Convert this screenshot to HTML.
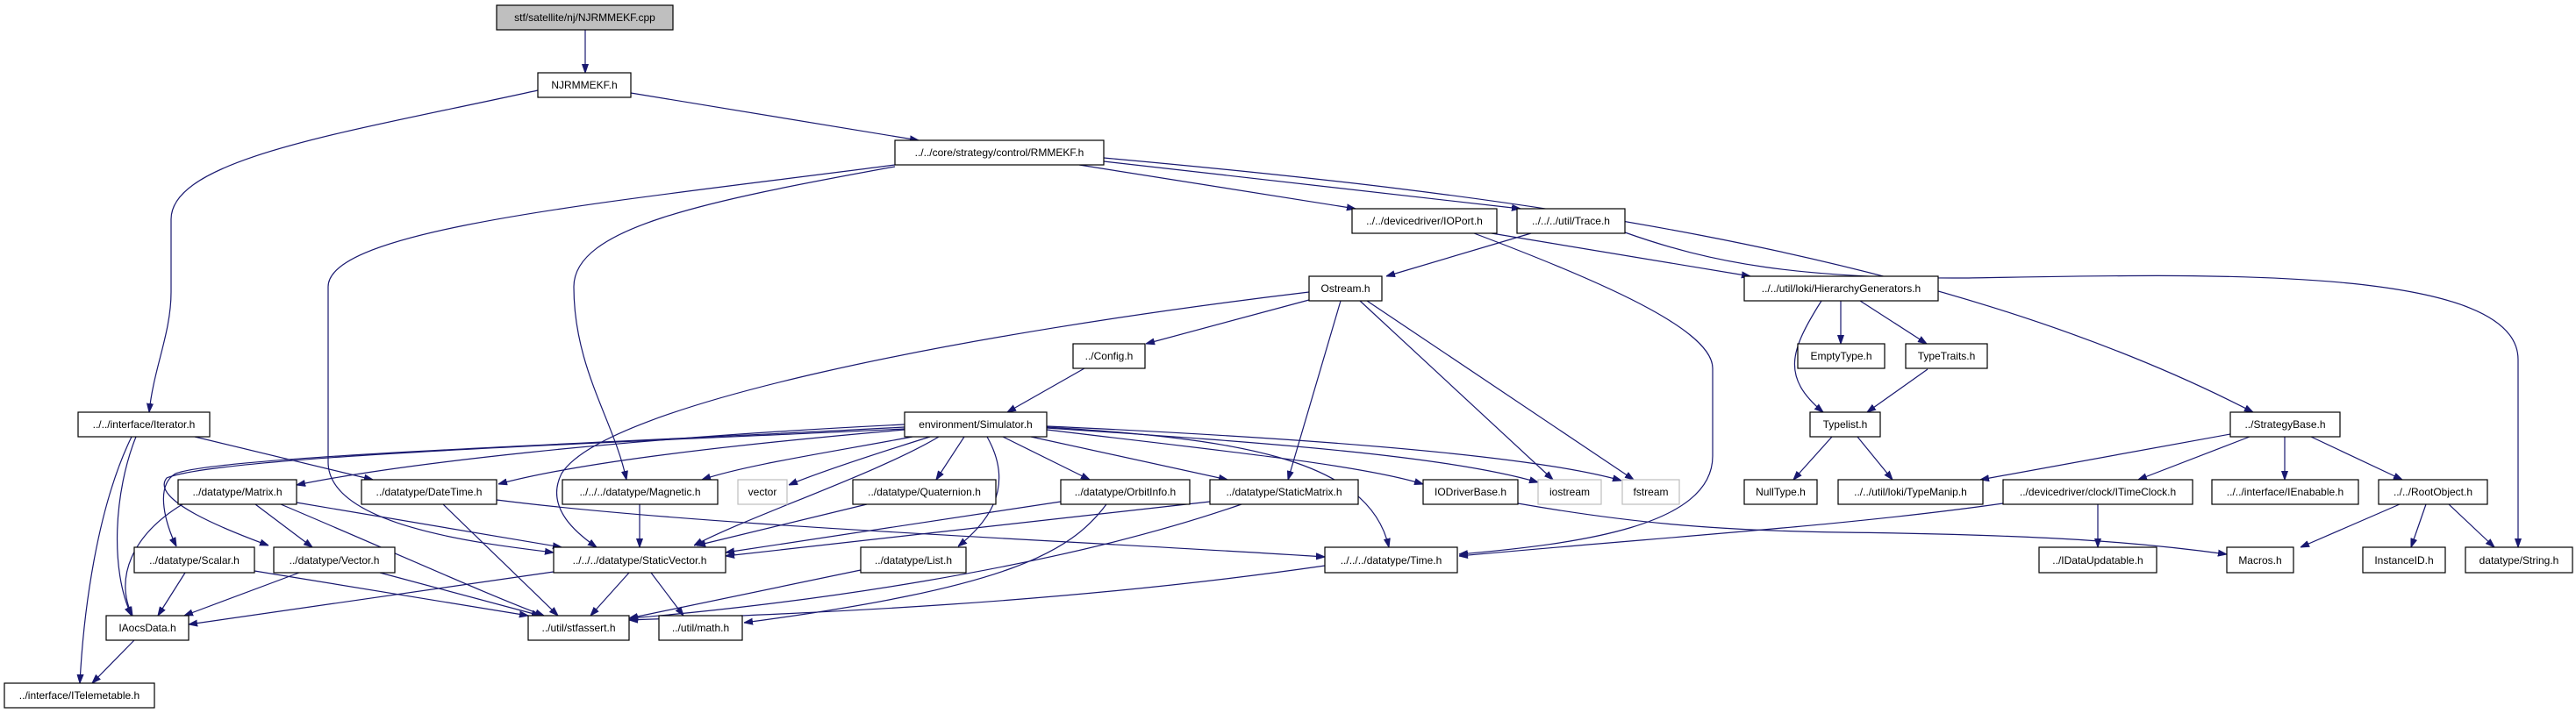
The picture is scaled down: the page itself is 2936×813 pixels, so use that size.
<!DOCTYPE html>
<html><head><meta charset="utf-8"><style>
html,body{margin:0;padding:0;background:#fff;}
svg{display:block;}
text{font-family:"Liberation Sans",Arial,sans-serif;font-size:12px;fill:#000;}
.e{fill:none;stroke:#191970;stroke-width:1.2;marker-end:url(#a);}
.n{fill:#fff;stroke:#000;stroke-width:1.2;}
.g{fill:#fff;stroke:#bfbfbf;stroke-width:1.2;}
</style></head><body>
<svg width="2936" height="813" viewBox="0 0 2936 813" xmlns="http://www.w3.org/2000/svg">
<defs><marker id="a" viewBox="0 0 10 10" refX="10" refY="5" markerWidth="10" markerHeight="10" markerUnits="userSpaceOnUse" orient="auto"><path d="M0,1.5 L10,5 L0,8.5 z" fill="#191970" stroke="#191970"/></marker></defs>
<g>
<path class="e" d="M667,34 L667,83"/>
<path class="e" d="M613,103 C400,150 195,180 195,250 L195,333 C195,380 175,420 170,470"/>
<path class="e" d="M719,106 L1047,160"/>
<path class="e" d="M1020,188 C700,230 374,260 374,327 L374,527 C374,600 550,620 631,630"/>
<path class="e" d="M1020,190 C800,230 654,260 654,327 C654,420 700,480 714,547"/>
<path class="e" d="M1230,188 L1545,238"/>
<path class="e" d="M1258,184 L1733,238"/>
<path class="e" d="M1258,180 C1700,220 2200,280 2568,470"/>
<path class="e" d="M1492,333 C1100,380 690,460 640,540 C620,580 660,610 680,624"/>
<path class="e" d="M1700,266 L1995,315"/>
<path class="e" d="M1680,266 C1850,330 1952,380 1952,420 L1952,520 C1952,600 1800,620 1663,632"/>
<path class="e" d="M1745,266 L1580,315"/>
<path class="e" d="M1852,265 C1950,300 2050,318 2240,317 C2500,313 2870,300 2870,410 L2870,624"/>
<path class="e" d="M1492,342 L1306,392"/>
<path class="e" d="M1528,343 L1468,547"/>
<path class="e" d="M1550,343 L1770,547"/>
<path class="e" d="M1558,343 L1862,547"/>
<path class="e" d="M1236,420 L1148,470"/>
<path class="e" d="M2098,343 L2098,392"/>
<path class="e" d="M2120,343 L2196,392"/>
<path class="e" d="M2076,343 C2040,400 2030,430 2078,470"/>
<path class="e" d="M2197,421 L2128,470"/>
<path class="e" d="M2088,498 L2044,547"/>
<path class="e" d="M2117,498 L2157,547"/>
<path class="e" d="M2542,495 L2257,547"/>
<path class="e" d="M2564,498 L2437,547"/>
<path class="e" d="M2604,498 L2604,547"/>
<path class="e" d="M2634,498 L2738,547"/>
<path class="e" d="M2735,575 L2622,624"/>
<path class="e" d="M2765,575 L2748,624"/>
<path class="e" d="M2791,575 L2843,624"/>
<path class="e" d="M2391,575 L2391,624"/>
<path class="e" d="M2283,574 C2100,600 1900,612 1663,634"/>
<path class="e" d="M1730,574 C1850,595 1950,605 2100,607 C2350,610 2450,620 2538,632"/>
<path class="e" d="M1031,487 C700,505 250,520 200,540 C175,555 190,600 201,623"/>
<path class="e" d="M1031,489 C700,505 250,520 190,545 C170,570 260,605 306,622"/>
<path class="e" d="M1031,484 C700,500 450,530 338,553"/>
<path class="e" d="M1031,490 C800,510 650,530 568,552"/>
<path class="e" d="M1040,498 C950,515 850,530 800,547"/>
<path class="e" d="M1060,498 C990,520 930,540 899,553"/>
<path class="e" d="M1070,498 C1000,540 850,590 791,622"/>
<path class="e" d="M1099,498 L1067,547"/>
<path class="e" d="M1125,498 C1160,560 1120,600 1092,623"/>
<path class="e" d="M1143,498 L1242,547"/>
<path class="e" d="M1175,498 L1399,547"/>
<path class="e" d="M1193,490 C1400,515 1550,530 1622,552"/>
<path class="e" d="M1193,488 C1450,505 1650,520 1753,550"/>
<path class="e" d="M1193,486 C1500,500 1750,520 1848,548"/>
<path class="e" d="M1193,487 C1400,500 1560,520 1583,624"/>
<path class="e" d="M222,498 L425,547"/>
<path class="e" d="M155,498 C130,560 125,650 150,702"/>
<path class="e" d="M150,498 C110,580 95,700 91,779"/>
<path class="e" d="M208,575 C150,610 130,660 151,702"/>
<path class="e" d="M291,575 L356,624"/>
<path class="e" d="M320,575 C450,630 560,680 620,702"/>
<path class="e" d="M338,573 L640,624"/>
<path class="e" d="M505,575 L636,702"/>
<path class="e" d="M566,570 C800,600 1200,615 1510,635"/>
<path class="e" d="M729,575 L729,624"/>
<path class="e" d="M211,653 L180,702"/>
<path class="e" d="M290,651 L602,702"/>
<path class="e" d="M341,653 L210,702"/>
<path class="e" d="M433,653 L616,702"/>
<path class="e" d="M631,652 L215,712"/>
<path class="e" d="M717,653 L673,702"/>
<path class="e" d="M742,653 L779,702"/>
<path class="e" d="M153,730 L105,779"/>
<path class="e" d="M988,575 L794,622"/>
<path class="e" d="M1209,572 L827,630"/>
<path class="e" d="M1261,575 C1220,630 1150,670 848,710"/>
<path class="e" d="M1379,572 L827,634"/>
<path class="e" d="M1415,575 C1200,650 900,690 717,705"/>
<path class="e" d="M981,650 L717,705"/>
<path class="e" d="M1510,645 C1200,690 900,700 717,707"/>
</g>
<g>
<rect x="566" y="6" width="201" height="28" fill="#bfbfbf" stroke="#000" stroke-width="1.2"/><text x="666.5" y="24" text-anchor="middle">stf/satellite/nj/NJRMMEKF.cpp</text>
<rect class="n" x="613" y="83" width="106" height="28"/><text x="666" y="101" text-anchor="middle">NJRMMEKF.h</text>
<rect class="n" x="1020" y="160" width="238" height="28"/><text x="1139" y="178" text-anchor="middle">../../core/strategy/control/RMMEKF.h</text>
<rect class="n" x="1541" y="238" width="165" height="28"/><text x="1623.5" y="256" text-anchor="middle">../../devicedriver/IOPort.h</text>
<rect class="n" x="1729" y="238" width="123" height="28"/><text x="1790.5" y="256" text-anchor="middle">../../../util/Trace.h</text>
<rect class="n" x="1492" y="315" width="83" height="28"/><text x="1533.5" y="333" text-anchor="middle">Ostream.h</text>
<rect class="n" x="1988" y="315" width="221" height="28"/><text x="2098.5" y="333" text-anchor="middle">../../util/loki/HierarchyGenerators.h</text>
<rect class="n" x="1223" y="392" width="82" height="28"/><text x="1264" y="410" text-anchor="middle">../Config.h</text>
<rect class="n" x="2049" y="392" width="99" height="28"/><text x="2098.5" y="410" text-anchor="middle">EmptyType.h</text>
<rect class="n" x="2172" y="392" width="93" height="28"/><text x="2218.5" y="410" text-anchor="middle">TypeTraits.h</text>
<rect class="n" x="89" y="470" width="150" height="28"/><text x="164" y="488" text-anchor="middle">../../interface/Iterator.h</text>
<rect class="n" x="1031" y="470" width="162" height="28"/><text x="1112" y="488" text-anchor="middle">environment/Simulator.h</text>
<rect class="n" x="2063" y="470" width="80" height="28"/><text x="2103" y="488" text-anchor="middle">Typelist.h</text>
<rect class="n" x="2542" y="470" width="125" height="28"/><text x="2604.5" y="488" text-anchor="middle">../StrategyBase.h</text>
<rect class="n" x="203" y="547" width="135" height="28"/><text x="270.5" y="565" text-anchor="middle">../datatype/Matrix.h</text>
<rect class="n" x="412" y="547" width="154" height="28"/><text x="489" y="565" text-anchor="middle">../datatype/DateTime.h</text>
<rect class="n" x="641" y="547" width="177" height="28"/><text x="729.5" y="565" text-anchor="middle">../../../datatype/Magnetic.h</text>
<rect class="g" x="841" y="547" width="56" height="28"/><text x="869" y="565" text-anchor="middle">vector</text>
<rect class="n" x="972" y="547" width="163" height="28"/><text x="1053.5" y="565" text-anchor="middle">../datatype/Quaternion.h</text>
<rect class="n" x="1209" y="547" width="147" height="28"/><text x="1282.5" y="565" text-anchor="middle">../datatype/OrbitInfo.h</text>
<rect class="n" x="1379" y="547" width="169" height="28"/><text x="1463.5" y="565" text-anchor="middle">../datatype/StaticMatrix.h</text>
<rect class="n" x="1622" y="547" width="108" height="28"/><text x="1676" y="565" text-anchor="middle">IODriverBase.h</text>
<rect class="g" x="1753" y="547" width="72" height="28"/><text x="1789" y="565" text-anchor="middle">iostream</text>
<rect class="g" x="1849" y="547" width="65" height="28"/><text x="1881.5" y="565" text-anchor="middle">fstream</text>
<rect class="n" x="1988" y="547" width="83" height="28"/><text x="2029.5" y="565" text-anchor="middle">NullType.h</text>
<rect class="n" x="2095" y="547" width="165" height="28"/><text x="2177.5" y="565" text-anchor="middle">../../util/loki/TypeManip.h</text>
<rect class="n" x="2283" y="547" width="216" height="28"/><text x="2391" y="565" text-anchor="middle">../devicedriver/clock/ITimeClock.h</text>
<rect class="n" x="2521" y="547" width="167" height="28"/><text x="2604.5" y="565" text-anchor="middle">../../interface/IEnabable.h</text>
<rect class="n" x="2711" y="547" width="124" height="28"/><text x="2773" y="565" text-anchor="middle">../../RootObject.h</text>
<rect class="n" x="153" y="624" width="137" height="29"/><text x="221.5" y="643" text-anchor="middle">../datatype/Scalar.h</text>
<rect class="n" x="312" y="624" width="138" height="29"/><text x="381" y="643" text-anchor="middle">../datatype/Vector.h</text>
<rect class="n" x="631" y="624" width="196" height="29"/><text x="729" y="643" text-anchor="middle">../../../datatype/StaticVector.h</text>
<rect class="n" x="981" y="624" width="120" height="29"/><text x="1041" y="643" text-anchor="middle">../datatype/List.h</text>
<rect class="n" x="1510" y="624" width="151" height="29"/><text x="1585.5" y="643" text-anchor="middle">../../../datatype/Time.h</text>
<rect class="n" x="2324" y="624" width="134" height="29"/><text x="2391" y="643" text-anchor="middle">../IDataUpdatable.h</text>
<rect class="n" x="2538" y="624" width="76" height="29"/><text x="2576" y="643" text-anchor="middle">Macros.h</text>
<rect class="n" x="2693" y="624" width="94" height="29"/><text x="2740" y="643" text-anchor="middle">InstanceID.h</text>
<rect class="n" x="2810" y="624" width="122" height="29"/><text x="2871" y="643" text-anchor="middle">datatype/String.h</text>
<rect class="n" x="121" y="702" width="94" height="28"/><text x="168" y="720" text-anchor="middle">IAocsData.h</text>
<rect class="n" x="602" y="702" width="115" height="28"/><text x="659.5" y="720" text-anchor="middle">../util/stfassert.h</text>
<rect class="n" x="751" y="702" width="95" height="28"/><text x="798.5" y="720" text-anchor="middle">../util/math.h</text>
<rect class="n" x="5" y="779" width="171" height="28"/><text x="90.5" y="797" text-anchor="middle">../interface/ITelemetable.h</text>
</g>
</svg>
</body></html>
